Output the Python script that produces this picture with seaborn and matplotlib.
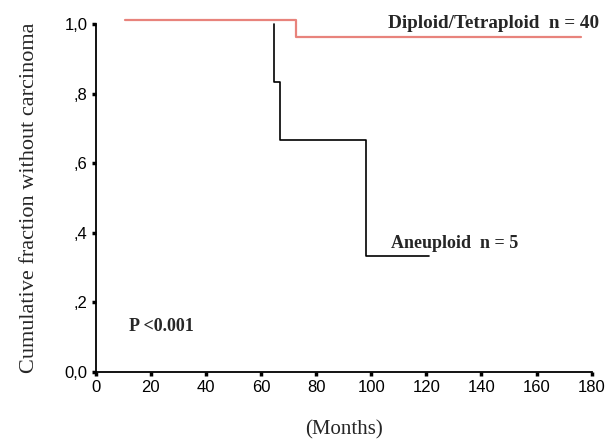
import numpy as np
import pandas as pd
import seaborn as sns
import matplotlib.pyplot as plt

# CURVAS DE KAPLAN-MEIER
meses_diploide = [10.5, 72.8, 176]
superv_diploide = [1.01, 0.963, 0.963]

meses_aneuploide = [64.6, 64.6, 67, 98.2, 120.8]
superv_aneuploide = [1.0, 0.833, 0.667, 0.333, 0.333]

xticks = [0, 20, 40, 60, 80, 100, 120, 140, 160, 180]
yticks = [0.0, 0.2, 0.4, 0.6, 0.8, 1.0]
ytick_labels = ['0,0', ',2', ',4', ',6', ',8', '1,0']

sns.set_style('ticks')
plt.rcParams['font.family'] = ['Liberation Sans', 'DejaVu Sans']

fig = plt.figure(figsize=(6.1, 4.4), dpi=100)
ax = fig.add_axes([0.157, 0.1545, 0.813, 0.791])

df_d = pd.DataFrame({'meses': meses_diploide, 'superv': superv_diploide})
df_a = pd.DataFrame({'meses': meses_aneuploide, 'superv': superv_aneuploide})

sns.lineplot(data=df_d, x='meses', y='superv', estimator=None, sort=False,
             drawstyle='steps-post', color='#e8837c', linewidth=1.6, ax=ax,
             clip_on=False)
sns.lineplot(data=df_a, x='meses', y='superv', estimator=None, sort=False,
             drawstyle='steps-post', color='black', linewidth=1.2, ax=ax,
             clip_on=False)

ax.set_xlim(0, 180)
ax.set_ylim(0, 1.0)
ax.set_xticks(xticks)
ax.set_yticks(yticks)
ax.set_yticklabels(ytick_labels)
ax.tick_params(axis='both', direction='out', length=3, width=2.5,
               labelsize=12, color='black', labelcolor='black', pad=3)
for lado in ['top', 'right']:
    ax.spines[lado].set_visible(False)
for lado in ['left', 'bottom']:
    ax.spines[lado].set_color('black')
    ax.spines[lado].set_linewidth(1.3)

serif = ['Liberation Serif', 'DejaVu Serif']
ax.set_ylabel('Cumulative fraction without carcinoma', family=serif,
              fontsize=16, labelpad=18)
ax.set_xlabel('(Months)', family=serif, fontsize=15, labelpad=18)

ax.text(106, 1.0, 'Diploid/Tetraploid  n = 40', family=serif, fontsize=13.8,
        fontweight='bold', va='center', ha='left')
ax.text(107, 0.37, 'Aneuploid  n = 5', family=serif, fontsize=13,
        fontweight='bold', va='center', ha='left')
ax.text(12, 0.13, 'P <0.001', family=serif, fontsize=13,
        fontweight='bold', va='center', ha='left')

fig.savefig('out.png', dpi=100)
